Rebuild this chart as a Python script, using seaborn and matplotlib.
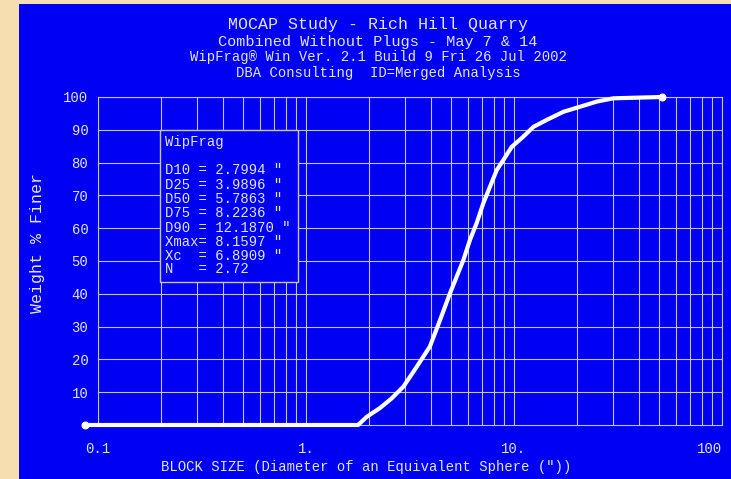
"""
WipFrag size distribution curve - MOCAP Study, Rich Hill Quarry
Rebuilds the blue WipFrag screen chart
"""

import pandas as pd
import matplotlib
matplotlib.use('Agg')
import matplotlib.pyplot as plt
from matplotlib.patches import Rectangle
import seaborn as sns

# Values
block_size = [0.0866, 1.70, 1.78, 1.96, 2.27, 2.58, 2.94, 3.41, 3.94, 4.41,
              4.92, 5.71, 6.14, 6.61, 7.12, 7.67, 8.26, 8.89, 9.75, 11.08,
              12.4, 14.35, 17.3, 20.7, 25.0, 30.0, 51.3]
weight_finer = [0.0, 0.0, 0.0, 2.5, 5.2, 8.1, 11.7, 17.8, 23.9, 32.0,
                40.1, 50.3, 56.4, 61.5, 67.6, 72.7, 77.7, 80.8, 84.8, 87.9,
                90.9, 93.0, 95.5, 97.0, 98.6, 99.6, 100.0]

x_ticks = [0.1, 1, 10, 100]
x_tick_labels = ['0.1', '1.', '10.', '100']
y_ticks = [10, 20, 30, 40, 50, 60, 70, 80, 90, 100]

title_lines = ['MOCAP Study - Rich Hill Quarry',
               'Combined Without Plugs - May 7 & 14',
               'WipFrag\u00ae Win Ver. 2.1 Build 9 Fri 26 Jul 2002',
               'DBA Consulting  ID=Merged Analysis']

stats_lines = ['WipFrag',
               '',
               'D10 = 2.7994 "',
               'D25 = 3.9896 "',
               'D50 = 5.7863 "',
               'D75 = 8.2236 "',
               'D90 = 12.1870 "',
               'Xmax= 8.1597 "',
               'Xc  = 6.8909 "',
               'N   = 2.72']

BLUE = '#0000f2'
BEIGE = '#f6deb0'
GRID = '#c4c4e8'
TEXT = '#e4e4f4'
MONO = ['Liberation Mono', 'DejaVu Sans Mono']

sns.set_style("white")
plt.rcParams['font.family'] = MONO

df = pd.DataFrame({'size': block_size, 'finer': weight_finer})

fig = plt.figure(figsize=(7.31, 4.79), dpi=100)
fig.patch.set_facecolor(BEIGE)

# blue panel (beige strip on the left and top)
panel = Rectangle((19 / 731, 0), 1 - 19 / 731, 1 - 4 / 479,
                  transform=fig.transFigure, facecolor=BLUE,
                  edgecolor='none', zorder=-10)
fig.patches.append(panel)

ax = fig.add_axes([98 / 731, 1 - 425 / 479, 624 / 731, 328 / 479])
ax.set_facecolor(BLUE)

sns.lineplot(data=df, x='size', y='finer', ax=ax, color='white', linewidth=3,
             marker='o', markersize=5, markevery=[0, len(df) - 1],
             markeredgecolor='white', clip_on=False, zorder=5)

ax.set_xscale('log')
ax.set_xlim(0.1, 100)
ax.set_ylim(0, 100)

# log grid: every 1..9 per decade, every 10 %
minor = [m * d for d in [0.1, 1, 10] for m in range(2, 10)]
ax.set_xticks(minor, minor=True)
ax.set_xticks(x_ticks)
ax.set_xticklabels(x_tick_labels)
ax.set_yticks(y_ticks)
ax.set_yticklabels([str(v) for v in y_ticks])
ax.grid(True, which='both', color=GRID, linewidth=0.8)
ax.set_axisbelow(True)
ax.tick_params(which='both', length=0, colors=TEXT, labelsize=10)
ax.tick_params(axis='x', pad=12)
ax.tick_params(axis='y', pad=7)
ax.get_xticklabels()[-1].set_horizontalalignment('right')
for sp in ax.spines.values():
    sp.set_color(GRID)
    sp.set_linewidth(0.8)

ax.set_xlabel('')
ax.set_ylabel('')
fig.text(366 / 731, 1 - 467 / 479, 'BLOCK SIZE (Diameter of an Equivalent Sphere ("))',
         color=TEXT, fontsize=10, ha='center', va='center')
fig.text(38 / 731, 1 - 243 / 479, 'Weight % Finer', color=TEXT, fontsize=12,
         rotation=90, ha='center', va='center')

# title block
for txt, ypix, fs in zip(title_lines, [24, 42, 57, 73], [12, 11, 10, 10]):
    fig.text(378 / 731, 1 - ypix / 479, txt, color=TEXT, fontsize=fs,
             ha='center', va='center')

# statistics box
box = Rectangle(((160 - 98) / 624, (425 - 282) / 328), (298 - 160) / 624, (282 - 130) / 328,
                transform=ax.transAxes, facecolor=BLUE, edgecolor=GRID,
                linewidth=1, zorder=3)
ax.add_patch(box)
rows = [142, 156, 170, 185, 199, 213, 228, 242, 256, 269]
for txt, ypix in zip(stats_lines, rows):
    if txt:
        ax.text((165 - 98) / 624, (425 - ypix) / 328, txt, transform=ax.transAxes,
                color=TEXT, fontsize=10, ha='left', va='center', zorder=4)

plt.savefig('out.png', dpi=100, facecolor=fig.get_facecolor())
plt.close()
